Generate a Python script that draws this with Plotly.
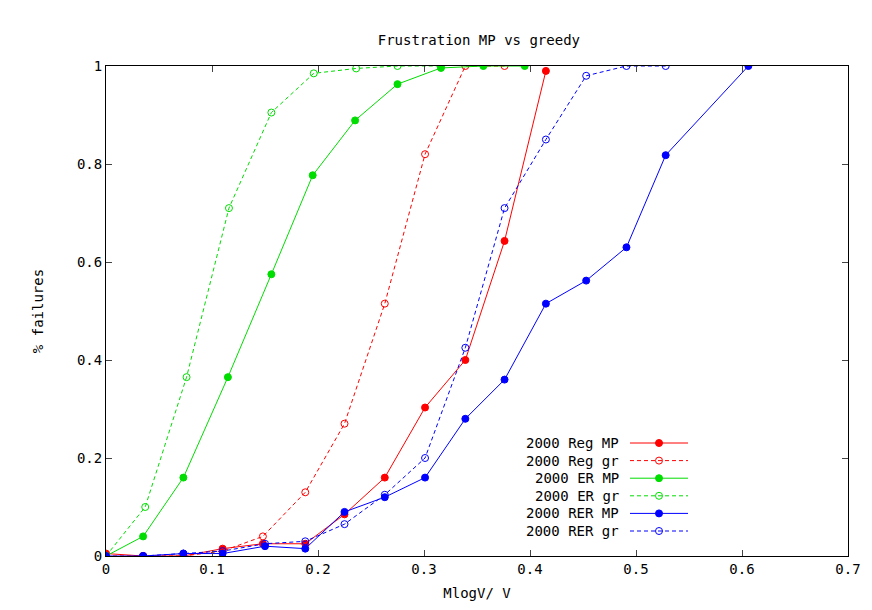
import plotly.graph_objects as go

# data
x_reg_mp = [0, 0.035, 0.073, 0.11, 0.148, 0.188, 0.225, 0.263, 0.301, 0.339, 0.376, 0.415]
y_reg_mp = [0.005, 0, 0, 0.015, 0.025, 0.025, 0.085, 0.16, 0.303, 0.4, 0.643, 0.99]
x_reg_gr = [0, 0.035, 0.073, 0.11, 0.148, 0.188, 0.225, 0.263, 0.301, 0.339, 0.376]
y_reg_gr = [0, 0, 0, 0.01, 0.04, 0.13, 0.27, 0.515, 0.82, 1.0, 1.0]
x_er_mp = [0, 0.035, 0.073, 0.115, 0.156, 0.195, 0.235, 0.275, 0.316, 0.356, 0.395]
y_er_mp = [0, 0.04, 0.16, 0.365, 0.575, 0.777, 0.889, 0.963, 0.996, 1.0, 1.0]
x_er_gr = [0, 0.037, 0.076, 0.116, 0.156, 0.196, 0.236, 0.275, 0.316]
y_er_gr = [0, 0.1, 0.365, 0.71, 0.905, 0.985, 0.995, 1.0, 1.0]
x_rer_mp = [0, 0.035, 0.073, 0.11, 0.15, 0.188, 0.225, 0.263, 0.301, 0.339, 0.376, 0.415, 0.453, 0.491, 0.528, 0.606]
y_rer_mp = [0, 0, 0.005, 0.005, 0.02, 0.015, 0.09, 0.12, 0.16, 0.28, 0.36, 0.515, 0.562, 0.63, 0.818, 1.0]
x_rer_gr = [0.035, 0.073, 0.11, 0.15, 0.188, 0.225, 0.263, 0.301, 0.339, 0.376, 0.415, 0.453, 0.491, 0.528]
y_rer_gr = [0, 0.005, 0.01, 0.025, 0.03, 0.065, 0.125, 0.2, 0.425, 0.71, 0.85, 0.98, 1.0, 1.0]

x_ticks = [0, 0.1, 0.2, 0.3, 0.4, 0.5, 0.6, 0.7]
x_labels = ["0", "0.1", "0.2", "0.3", "0.4", "0.5", "0.6", "0.7"]
y_ticks = [0, 0.2, 0.4, 0.6, 0.8, 1]
y_labels = ["0", "0.2", "0.4", "0.6", "0.8", "1"]

series = [
    ("2000 Reg MP", x_reg_mp, y_reg_mp, "#ff0000", "solid", "circle"),
    ("2000 Reg gr", x_reg_gr, y_reg_gr, "#ff0000", "4px,3px", "circle-open"),
    ("2000 ER MP", x_er_mp, y_er_mp, "#00dd00", "solid", "circle"),
    ("2000 ER gr", x_er_gr, y_er_gr, "#00dd00", "4px,3px", "circle-open"),
    ("2000 RER MP", x_rer_mp, y_rer_mp, "#0000ff", "solid", "circle"),
    ("2000 RER gr", x_rer_gr, y_rer_gr, "#0000ff", "4px,3px", "circle-open"),
]

font = dict(family="DejaVu Sans Mono", size=14, color="black")
fig = go.Figure()
shapes = []
annotations = []
for i, (name, xs, ys, col, dash, sym) in enumerate(series):
    fig.add_trace(go.Scatter(x=xs, y=ys, mode="lines+markers", name=name,
                             line=dict(color=col, width=1, dash=dash),
                             marker=dict(symbol=sym, size=7, color=col, line=dict(color=col, width=1))))
    # hand-made gnuplot style key
    ky = (548 - (435 + i * 17.6)) / 490
    annotations.append(dict(x=(613 - 98) / 742, y=ky, xref="paper", yref="paper", text=name,
                            showarrow=False, xanchor="right", yanchor="middle", font=font))
    shapes.append(dict(type="line", xref="paper", yref="paper", x0=(622 - 98) / 742, x1=(680 - 98) / 742,
                       y0=ky, y1=ky, line=dict(color=col, width=1, dash=dash)))
    fig.add_trace(go.Scatter(x=[(651 - 98) / 742 * 0.7], y=[ky], mode="markers", showlegend=False,
                             marker=dict(symbol=sym, size=7, color=col, line=dict(color=col, width=1)),
                             hoverinfo="skip"))

axis = dict(showline=True, mirror="ticks", linecolor="black", linewidth=1, ticks="inside",
            ticklen=6, showgrid=False, zeroline=False, tickfont=font, automargin=False)
fig.update_layout(
    width=872, height=610, plot_bgcolor="white", paper_bgcolor="white",
    margin=dict(l=98, r=32, t=58, b=62), showlegend=False, font=font,
    title=dict(text="Frustration MP vs greedy", x=0.54, xanchor="center", y=0.955, font=font),
    xaxis=dict(axis, range=[0, 0.7], tickvals=x_ticks, ticktext=x_labels,
               title=dict(text="MlogV/ V", font=font, standoff=12)),
    yaxis=dict(axis, range=[0, 1], tickvals=y_ticks, ticktext=y_labels,
               title=dict(text="% failures", font=font, standoff=30)),
    shapes=shapes, annotations=annotations,
)
fig.write_html("out.html")
